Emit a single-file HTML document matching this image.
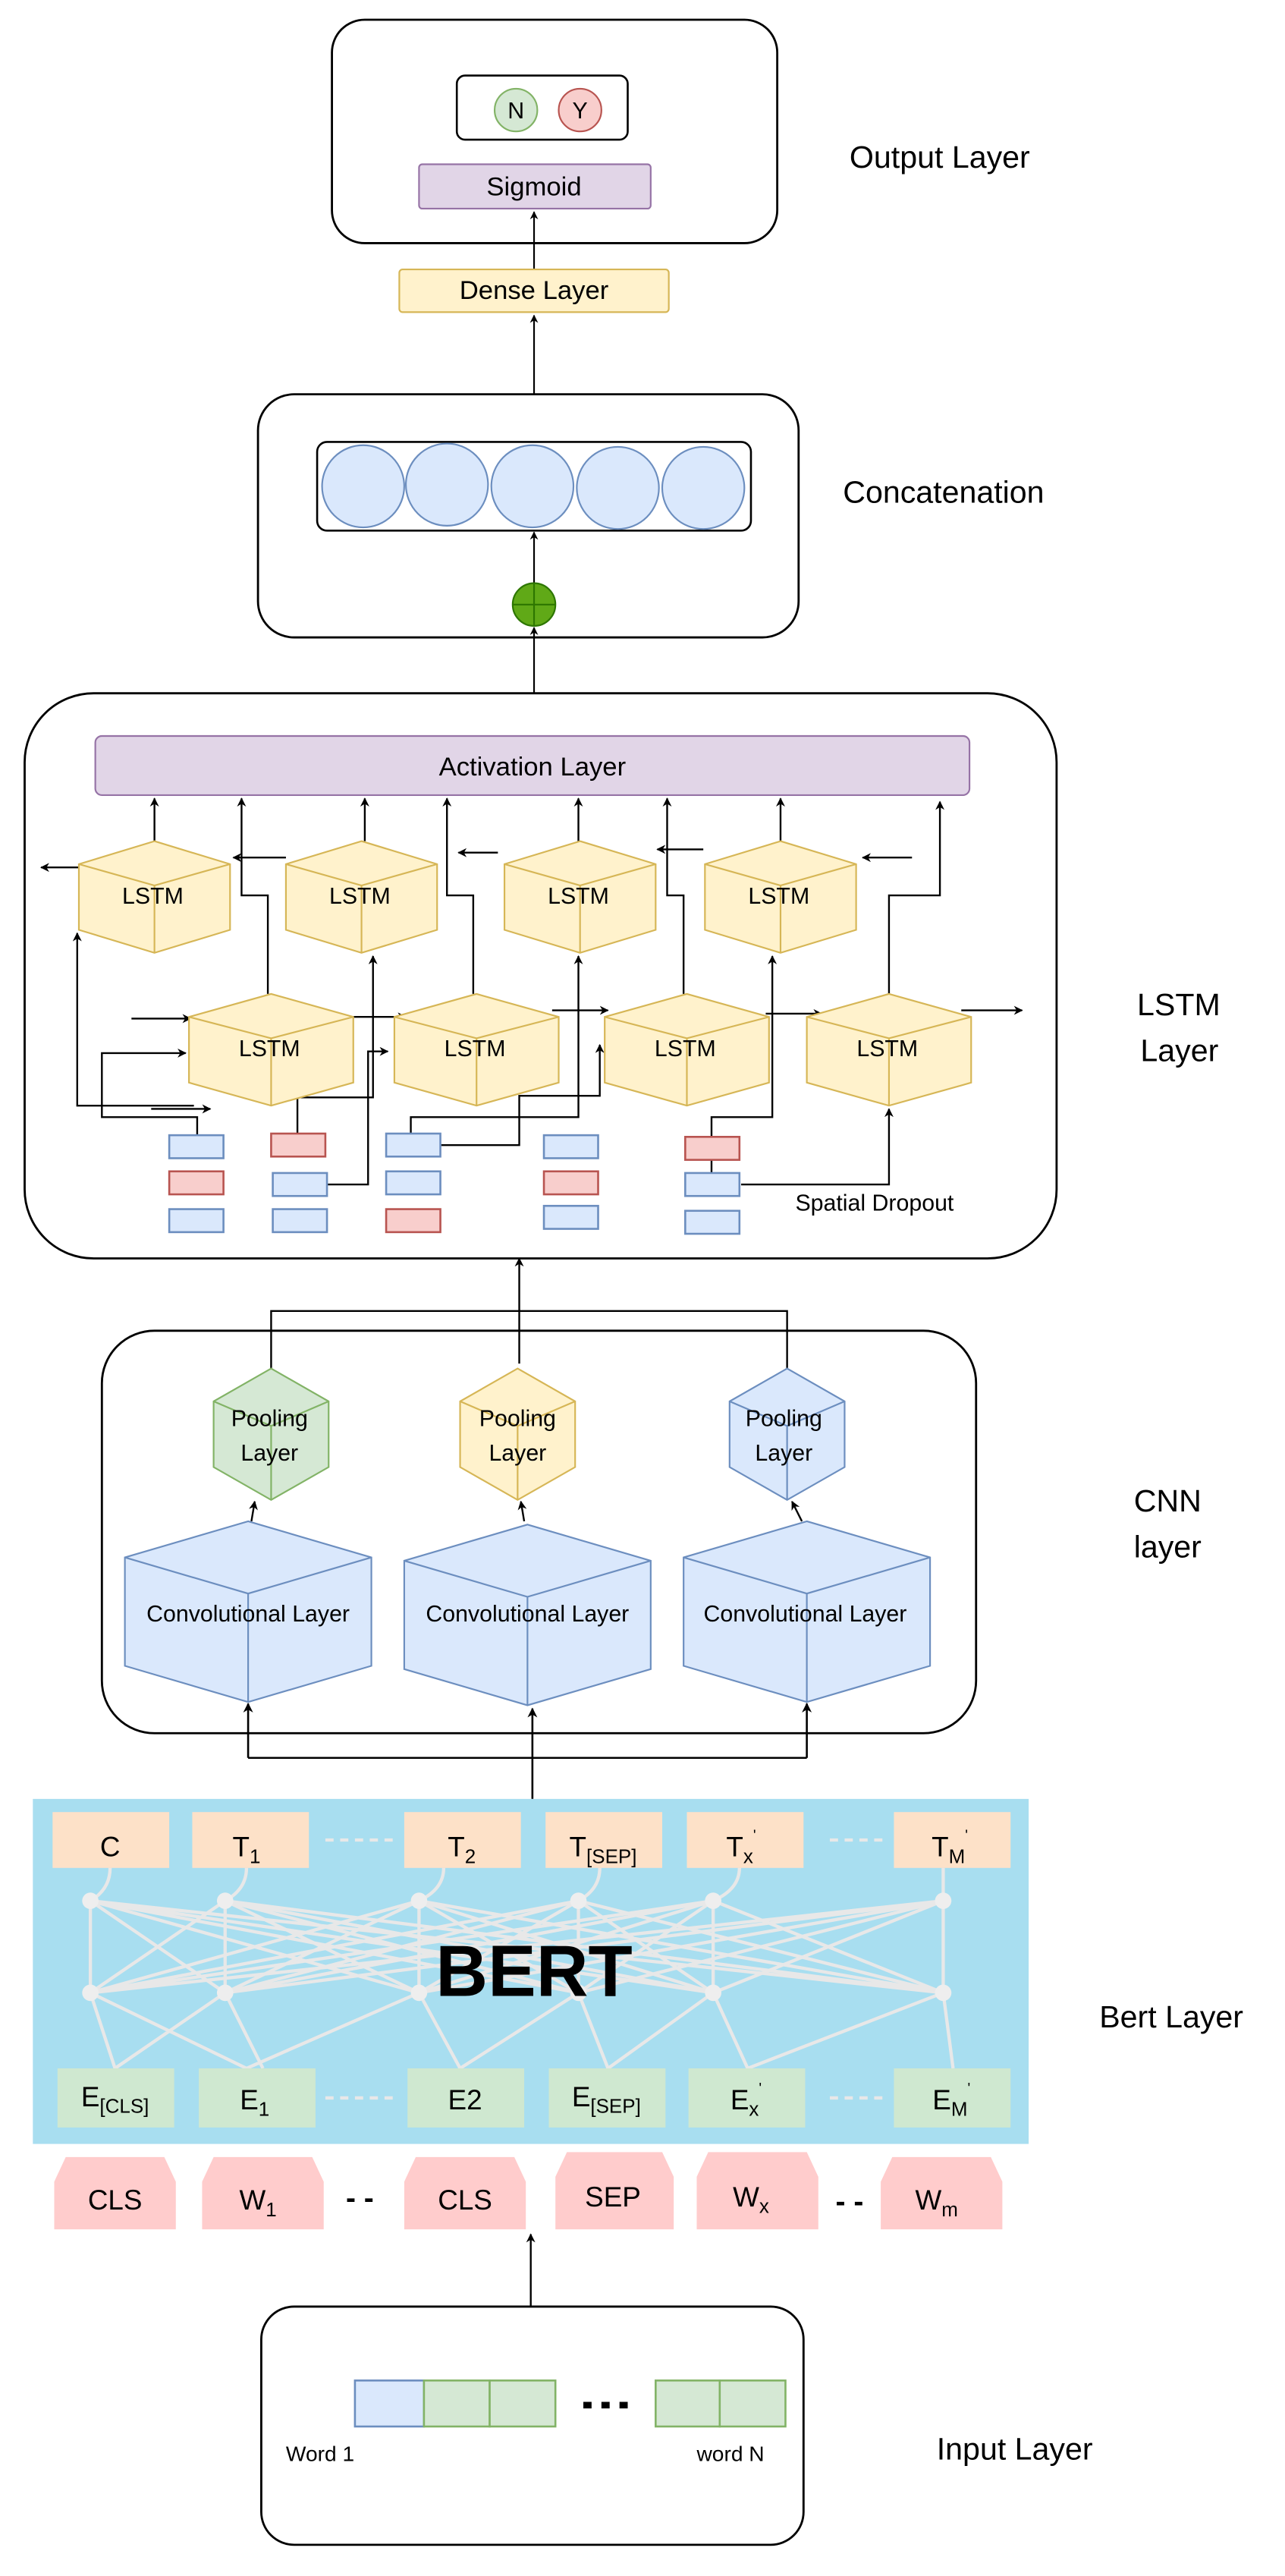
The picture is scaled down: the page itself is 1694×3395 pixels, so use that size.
<!DOCTYPE html>
<html><head><meta charset="utf-8"><style>
html,body{margin:0;padding:0;background:#fff}
svg{display:block}
text{font-family:"Liberation Sans",Arial,sans-serif;fill:#000}
</style></head><body>
<svg width="1694" height="3395" viewBox="0 0 782 1568" preserveAspectRatio="none" xmlns="http://www.w3.org/2000/svg">
<defs>
<marker id="a" viewBox="0 0 10 10" refX="9" refY="5" markerWidth="5" markerHeight="5" orient="auto"><path d="M0,0 L10,5 L0,10 L3,5 z" fill="#000"/></marker>
<g id="lstm"><polygon points="0,0 46,14 46,54 0,68 -46,54 -46,14" fill="#fff2cc" stroke="#d6b656" stroke-width="1"/><polyline points="-46,14 0,27 46,14" fill="none" stroke="#d6b656"/><line x1="0" y1="27" x2="0" y2="68" stroke="#d6b656"/></g>
<g id="lstm2"><polygon points="0,0 50,14 50,54 0,68 -50,54 -50,14" fill="#fff2cc" stroke="#d6b656"/><polyline points="-50,14 0,27 50,14" fill="none" stroke="#d6b656"/><line x1="0" y1="27" x2="0" y2="68" stroke="#d6b656"/></g>
<g id="conv"><polygon points="0,0 75,22 75,88 0,110 -75,88 -75,22" fill="#dae8fc" stroke="#6c8ebf"/><polyline points="-75,22 0,44 75,22" fill="none" stroke="#6c8ebf"/><line x1="0" y1="44" x2="0" y2="110" stroke="#6c8ebf"/></g>
</defs>

<!-- Output layer -->
<rect x="202" y="12" width="271" height="136" rx="20" fill="#fff" stroke="#000" stroke-width="1.3"/>
<rect x="278" y="46" width="104" height="39" rx="5" fill="#fff" stroke="#000" stroke-width="1.2"/>
<ellipse cx="314" cy="67" rx="13" ry="13" fill="#d5e8d4" stroke="#82b366"/>
<text x="314" y="72" font-size="14" text-anchor="middle">N</text>
<ellipse cx="353" cy="67" rx="13" ry="13" fill="#f8cecc" stroke="#b85450"/>
<text x="353" y="72" font-size="14" text-anchor="middle">Y</text>
<rect x="255" y="100" width="141" height="27" rx="2" fill="#e1d5e7" stroke="#9673a6"/>
<text x="325" y="119" font-size="16" text-anchor="middle">Sigmoid</text>
<text x="517" y="102" font-size="19">Output Layer</text>
<line x1="325" y1="164" x2="325" y2="129" stroke="#000" marker-end="url(#a)"/>
<rect x="243" y="164" width="164" height="26" rx="2" fill="#fff2cc" stroke="#d6b656"/>
<text x="325" y="182" font-size="16" text-anchor="middle">Dense Layer</text>
<line x1="325" y1="240" x2="325" y2="192" stroke="#000" marker-end="url(#a)"/>

<!-- Concatenation -->
<rect x="157" y="240" width="329" height="148" rx="22" fill="#fff" stroke="#000" stroke-width="1.3"/>
<rect x="193" y="269" width="264" height="54" rx="6" fill="#fff" stroke="#000" stroke-width="1.2"/>
<g fill="#dae8fc" stroke="#6c8ebf"><circle cx="221" cy="296" r="25"/><circle cx="272" cy="295" r="25"/><circle cx="324" cy="296" r="25"/><circle cx="376" cy="297" r="25"/><circle cx="428" cy="297" r="25"/></g>
<text x="513" y="306" font-size="19">Concatenation</text>
<line x1="325" y1="356" x2="325" y2="324" stroke="#000" marker-end="url(#a)"/>
<circle cx="325" cy="368" r="13" fill="#60a917" stroke="#2d7600"/>
<line x1="312" y1="368" x2="338" y2="368" stroke="#2d7600"/><line x1="325" y1="355" x2="325" y2="381" stroke="#2d7600"/>
<line x1="325" y1="422" x2="325" y2="382" stroke="#000" marker-end="url(#a)"/>

<!-- LSTM layer -->
<rect x="15" y="422" width="628" height="344" rx="42" fill="#fff" stroke="#000" stroke-width="1.3"/>
<rect x="58" y="448" width="532" height="36" rx="4" fill="#e1d5e7" stroke="#9673a6"/>
<text x="324" y="472" font-size="16" text-anchor="middle">Activation Layer</text>
<text x="692" y="618" font-size="19">LSTM</text>
<text x="694" y="646" font-size="19">Layer</text>

<g stroke="#000" fill="none" stroke-width="1.1">
<line x1="94" y1="512" x2="94" y2="486" marker-end="url(#a)"/>
<line x1="222" y1="512" x2="222" y2="486" marker-end="url(#a)"/>
<line x1="352" y1="512" x2="352" y2="486" marker-end="url(#a)"/>
<line x1="475" y1="512" x2="475" y2="486" marker-end="url(#a)"/>
<polyline points="163,605 163,545 147,545 147,486" marker-end="url(#a)"/>
<polyline points="288,605 288,545 272,545 272,486" marker-end="url(#a)"/>
<polyline points="416,605 416,545 406,545 406,486" marker-end="url(#a)"/>
<polyline points="541,605 541,545 572,545 572,488" marker-end="url(#a)"/>
<line x1="55" y1="528" x2="25" y2="528" marker-end="url(#a)"/>
<line x1="174" y1="522" x2="142" y2="522" marker-end="url(#a)"/>
<line x1="303" y1="519" x2="279" y2="519" marker-end="url(#a)"/>
<line x1="428" y1="517" x2="400" y2="517" marker-end="url(#a)"/>
<line x1="555" y1="522" x2="525" y2="522" marker-end="url(#a)"/>
<line x1="80" y1="620" x2="116" y2="620" marker-end="url(#a)"/>
<line x1="212" y1="619" x2="247" y2="619" marker-end="url(#a)"/>
<line x1="336" y1="615" x2="370" y2="615" marker-end="url(#a)"/>
<line x1="466" y1="617" x2="500" y2="617" marker-end="url(#a)"/>
<line x1="585" y1="615" x2="622" y2="615" marker-end="url(#a)"/>
<polyline points="120,691 120,680 62,680 62,641 113,641" marker-end="url(#a)"/>
<polyline points="118,673 47,673 47,568" marker-end="url(#a)"/>
<line x1="92" y1="675" x2="128" y2="675" marker-end="url(#a)"/>
<polyline points="181,690 181,668 227,668 227,582" marker-end="url(#a)"/>
<polyline points="199,721 224,721 224,640 236,640" marker-end="url(#a)"/>
<polyline points="250,690 250,680 352,680 352,582" marker-end="url(#a)"/>
<polyline points="268,697 316,697 316,667 365,667 365,636" marker-end="url(#a)"/>
<polyline points="433,720 433,680 470,680 470,582" marker-end="url(#a)"/>
<polyline points="451,721 541,721 541,675" marker-end="url(#a)"/>
</g>
<use href="#lstm" x="94" y="512"/><use href="#lstm" x="220" y="512"/><use href="#lstm" x="353" y="512"/><use href="#lstm" x="475" y="512"/>
<use href="#lstm2" x="165" y="605"/><use href="#lstm2" x="290" y="605"/><use href="#lstm2" x="418" y="605"/><use href="#lstm2" x="541" y="605"/>
<g font-size="14" text-anchor="middle"><text x="93" y="550">LSTM</text><text x="219" y="550">LSTM</text><text x="352" y="550">LSTM</text><text x="474" y="550">LSTM</text>
<text x="164" y="643">LSTM</text><text x="289" y="643">LSTM</text><text x="417" y="643">LSTM</text><text x="540" y="643">LSTM</text></g>
<g stroke-width="1.2">
<rect x="103" y="691" width="33" height="14" fill="#dae8fc" stroke="#6c8ebf"/><rect x="103" y="713" width="33" height="14" fill="#f8cecc" stroke="#b85450"/><rect x="103" y="736" width="33" height="14" fill="#dae8fc" stroke="#6c8ebf"/>
<rect x="165" y="690" width="33" height="14" fill="#f8cecc" stroke="#b85450"/><rect x="166" y="714" width="33" height="14" fill="#dae8fc" stroke="#6c8ebf"/><rect x="166" y="736" width="33" height="14" fill="#dae8fc" stroke="#6c8ebf"/>
<rect x="235" y="690" width="33" height="14" fill="#dae8fc" stroke="#6c8ebf"/><rect x="235" y="713" width="33" height="14" fill="#dae8fc" stroke="#6c8ebf"/><rect x="235" y="736" width="33" height="14" fill="#f8cecc" stroke="#b85450"/>
<rect x="331" y="691" width="33" height="14" fill="#dae8fc" stroke="#6c8ebf"/><rect x="331" y="713" width="33" height="14" fill="#f8cecc" stroke="#b85450"/><rect x="331" y="734" width="33" height="14" fill="#dae8fc" stroke="#6c8ebf"/>
<rect x="417" y="692" width="33" height="14" fill="#f8cecc" stroke="#b85450"/><rect x="417" y="714" width="33" height="14" fill="#dae8fc" stroke="#6c8ebf"/><rect x="417" y="737" width="33" height="14" fill="#dae8fc" stroke="#6c8ebf"/>
</g>
<text x="484" y="737" font-size="14">Spatial Dropout</text>

<!-- CNN -->
<line x1="316" y1="830" x2="316" y2="766" stroke="#000" stroke-width="1.1" marker-end="url(#a)"/>
<polyline points="165,833 165,798 479,798 479,833" fill="none" stroke="#000" stroke-width="1.1"/>
<rect x="62" y="810" width="532" height="245" rx="32" fill="none" stroke="#000" stroke-width="1.3"/>
<g>
<polygon points="165,833 200,853 200,893 165,913 130,893 130,853" fill="#d5e8d4" stroke="#82b366"/><polyline points="130,853 165,868 200,853" fill="none" stroke="#82b366"/><line x1="165" y1="868" x2="165" y2="913" stroke="#82b366"/>
<polygon points="315,833 350,853 350,893 315,913 280,893 280,853" fill="#fff2cc" stroke="#d6b656"/><polyline points="280,853 315,868 350,853" fill="none" stroke="#d6b656"/><line x1="315" y1="868" x2="315" y2="913" stroke="#d6b656"/>
<polygon points="479,833 514,853 514,893 479,913 444,893 444,853" fill="#dae8fc" stroke="#6c8ebf"/><polyline points="444,853 479,868 514,853" fill="none" stroke="#6c8ebf"/><line x1="479" y1="868" x2="479" y2="913" stroke="#6c8ebf"/>
</g>
<g font-size="14" text-anchor="middle"><text x="164" y="868">Pooling</text><text x="164" y="889">Layer</text><text x="315" y="868">Pooling</text><text x="315" y="889">Layer</text><text x="477" y="868">Pooling</text><text x="477" y="889">Layer</text></g>
<g stroke="#000" stroke-width="1.1" fill="none">
<line x1="153" y1="926" x2="155" y2="914" marker-end="url(#a)"/>
<line x1="319" y1="926" x2="317" y2="914" marker-end="url(#a)"/>
<line x1="488" y1="926" x2="482" y2="914" marker-end="url(#a)"/>
</g>
<use href="#conv" x="151" y="926"/><use href="#conv" x="321" y="928"/><use href="#conv" x="491" y="926"/>
<g font-size="14" text-anchor="middle"><text x="151" y="987">Convolutional Layer</text><text x="321" y="987">Convolutional Layer</text><text x="490" y="987">Convolutional Layer</text></g>
<g stroke="#000" stroke-width="1.2" fill="none">
<line x1="324" y1="1095" x2="324" y2="1040" marker-end="url(#a)"/>
<polyline points="151,1070 151,1037" marker-end="url(#a)"/>
<polyline points="491,1070 491,1037" marker-end="url(#a)"/>
<line x1="151" y1="1070" x2="491" y2="1070"/>
</g>
<text x="690" y="920" font-size="19">CNN</text>
<text x="690" y="948" font-size="19">layer</text>

<!-- BERT -->
<rect x="20" y="1095" width="606" height="210" fill="#a8def0"/>
<g stroke="#e8e8e8" stroke-width="2" fill="none">
<path d="M55,1157L55,1213M55,1157L137,1213M55,1157L255,1213M55,1157L352,1213M55,1157L434,1213M55,1157L574,1213
M137,1157L55,1213M137,1157L137,1213M137,1157L255,1213M137,1157L352,1213M137,1157L434,1213M137,1157L574,1213
M255,1157L55,1213M255,1157L137,1213M255,1157L255,1213M255,1157L352,1213M255,1157L434,1213M255,1157L574,1213
M352,1157L55,1213M352,1157L137,1213M352,1157L255,1213M352,1157L352,1213M352,1157L434,1213M352,1157L574,1213
M434,1157L55,1213M434,1157L137,1213M434,1157L255,1213M434,1157L352,1213M434,1157L434,1213M434,1157L574,1213
M574,1157L55,1213M574,1157L137,1213M574,1157L255,1213M574,1157L352,1213M574,1157L434,1213M574,1157L574,1213
M55,1213L70,1259M55,1213L150,1259M137,1213L70,1259M137,1213L160,1259M255,1213L280,1259M255,1213L150,1259M352,1213L370,1259M352,1213L280,1259M434,1213L455,1259M434,1213L370,1259M574,1213L580,1259M574,1213L455,1259
M55,1157Q67,1150 67,1137M137,1157Q150,1150 150,1137M255,1157Q270,1150 270,1137M352,1157Q365,1150 365,1137M434,1157Q450,1150 450,1137M574,1157L574,1137"/>
<path d="M198,1120H240M505,1120H540M198,1277H240M505,1277H540" stroke-dasharray="5,4"/>
</g>
<g fill="#eeeeee"><circle cx="55" cy="1157" r="5"/><circle cx="137" cy="1157" r="5"/><circle cx="255" cy="1157" r="5"/><circle cx="352" cy="1157" r="5"/><circle cx="434" cy="1157" r="5"/><circle cx="574" cy="1157" r="5"/>
<circle cx="55" cy="1213" r="5"/><circle cx="137" cy="1213" r="5"/><circle cx="255" cy="1213" r="5"/><circle cx="352" cy="1213" r="5"/><circle cx="434" cy="1213" r="5"/><circle cx="574" cy="1213" r="5"/></g>
<text x="325" y="1215" font-size="44" font-weight="bold" text-anchor="middle">BERT</text>
<g fill="#fde1c8"><rect x="32" y="1103" width="71" height="34"/><rect x="117" y="1103" width="71" height="34"/><rect x="246" y="1103" width="71" height="34"/><rect x="332" y="1103" width="71" height="34"/><rect x="418" y="1103" width="71" height="34"/><rect x="544" y="1103" width="71" height="34"/></g>
<g font-size="17" text-anchor="middle">
<text x="67" y="1130">C</text>
<text x="150" y="1130">T<tspan font-size="12" dy="4">1</tspan></text>
<text x="281" y="1130">T<tspan font-size="12" dy="4">2</tspan></text>
<text x="367" y="1130">T<tspan font-size="12" dy="4">[SEP]</tspan></text>
<text x="451" y="1130">T<tspan font-size="12" dy="4">x</tspan><tspan font-size="9" dy="-14">'</tspan></text>
<text x="578" y="1130">T<tspan font-size="12" dy="4">M</tspan><tspan font-size="9" dy="-14">'</tspan></text>
</g>
<g fill="#cfe8d0"><rect x="35" y="1259" width="71" height="36"/><rect x="121" y="1259" width="71" height="36"/><rect x="248" y="1259" width="71" height="36"/><rect x="334" y="1259" width="71" height="36"/><rect x="419" y="1259" width="71" height="36"/><rect x="544" y="1259" width="71" height="36"/></g>
<g font-size="17" text-anchor="middle">
<text x="70" y="1282">E<tspan font-size="12" dy="4">[CLS]</tspan></text>
<text x="155" y="1284">E<tspan font-size="12" dy="4">1</tspan></text>
<text x="283" y="1284">E2</text>
<text x="369" y="1282">E<tspan font-size="12" dy="4">[SEP]</tspan></text>
<text x="454" y="1284">E<tspan font-size="12" dy="4">x</tspan><tspan font-size="9" dy="-14">'</tspan></text>
<text x="579" y="1284">E<tspan font-size="12" dy="4">M</tspan><tspan font-size="9" dy="-14">'</tspan></text>
</g>
<text x="669" y="1234" font-size="19">Bert Layer</text>

<!-- tokens -->
<g fill="#ffcccc">
<polygon points="40,1313 100,1313 107,1328 107,1357 33,1357 33,1328"/>
<polygon points="130,1313 190,1313 197,1328 197,1357 123,1357 123,1328"/>
<polygon points="253,1313 313,1313 320,1328 320,1357 246,1357 246,1328"/>
<polygon points="345,1310 403,1310 410,1325 410,1357 338,1357 338,1325"/>
<polygon points="431,1310 491,1310 498,1325 498,1357 424,1357 424,1325"/>
<polygon points="543,1313 603,1313 610,1328 610,1357 536,1357 536,1328"/>
</g>
<g font-size="17" text-anchor="middle">
<text x="70" y="1345">CLS</text>
<text x="157" y="1345">W<tspan font-size="12" dy="4">1</tspan></text>
<text x="283" y="1345">CLS</text>
<text x="373" y="1343">SEP</text>
<text x="457" y="1343">W<tspan font-size="12" dy="4">x</tspan></text>
<text x="570" y="1345">W<tspan font-size="12" dy="4">m</tspan></text>
</g>
<g font-size="18" font-weight="bold" text-anchor="middle"><text x="219" y="1344">- -</text><text x="517" y="1346">- -</text></g>
<line x1="323" y1="1404" x2="323" y2="1360" stroke="#000" stroke-width="1.1" marker-end="url(#a)"/>

<!-- Input -->
<rect x="159" y="1404" width="330" height="145" rx="20" fill="#fff" stroke="#000" stroke-width="1.3"/>
<rect x="216" y="1449" width="42" height="28" fill="#dae8fc" stroke="#6c8ebf" stroke-width="1.2"/>
<rect x="258" y="1449" width="40" height="28" fill="#d5e8d4" stroke="#82b366" stroke-width="1.2"/>
<rect x="298" y="1449" width="40" height="28" fill="#d5e8d4" stroke="#82b366" stroke-width="1.2"/>
<rect x="399" y="1449" width="39" height="28" fill="#d5e8d4" stroke="#82b366" stroke-width="1.2"/>
<rect x="438" y="1449" width="40" height="28" fill="#d5e8d4" stroke="#82b366" stroke-width="1.2"/>
<g fill="#000"><rect x="355" y="1462" width="5" height="4"/><rect x="366" y="1462" width="5" height="4"/><rect x="377" y="1462" width="5" height="4"/></g>
<text x="174" y="1498" font-size="13">Word 1</text>
<text x="424" y="1498" font-size="13">word N</text>
<text x="570" y="1497" font-size="19">Input Layer</text>
</svg>
</body></html>
